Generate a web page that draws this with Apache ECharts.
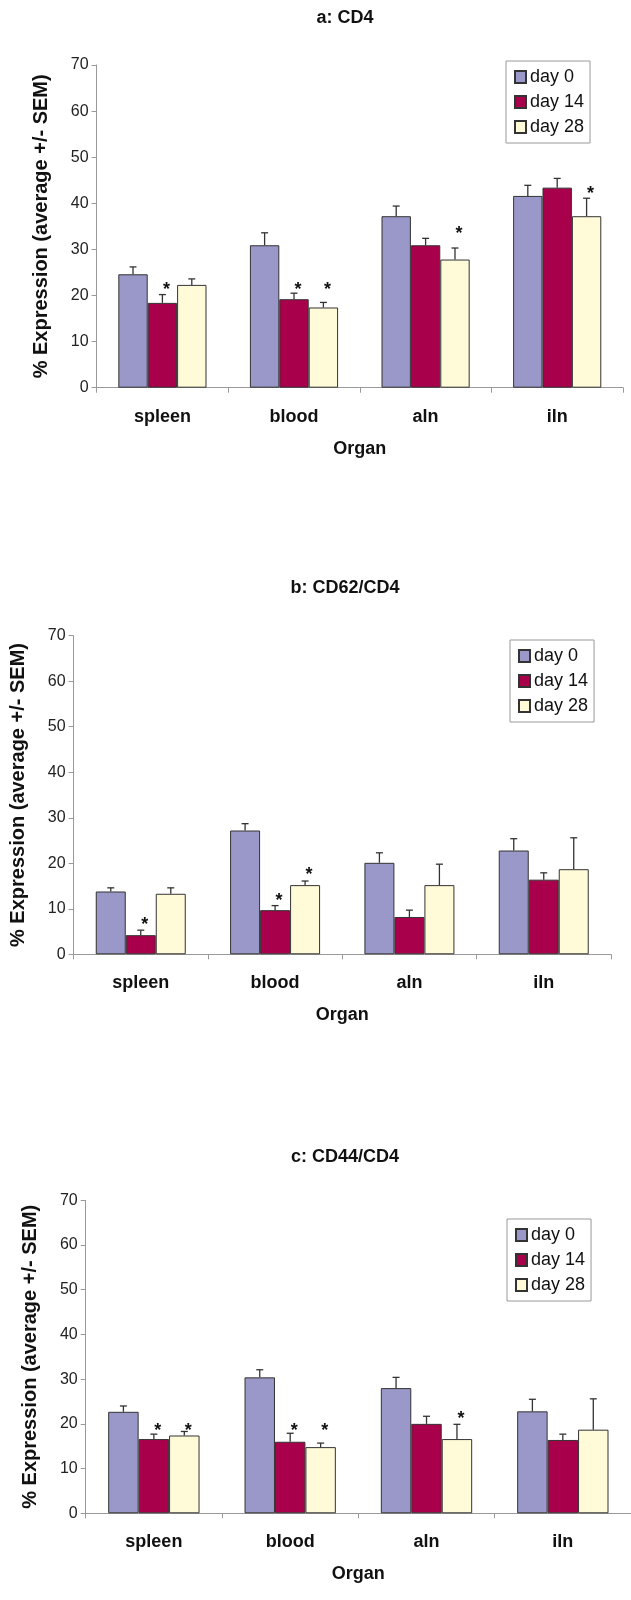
<!DOCTYPE html>
<html>
<head>
<meta charset="utf-8">
<script src="https://cdn.jsdelivr.net/npm/echarts@6/dist/echarts.min.js"></script>
<style>
  html, body { margin: 0; padding: 0; background: #ffffff; }
  #chart { width: 631px; height: 1600px; }
</style>
</head>
<body>
<div id="chart"></div>
<script>
// ---------------- DATA ----------------
const categories = ['spleen', 'blood', 'aln', 'iln'];
const seriesNames = ['day 0', 'day 14', 'day 28'];
const yMin = 0, yMax = 70, yStep = 10;
const chartTitles = ['a: CD4', 'b: CD62/CD4', 'c: CD44/CD4'];
const yAxisTitle = '% Expression (average +/- SEM)';
const xAxisTitle = 'Organ';

// a: CD4
const a_day0 = [24.6, 30.9, 37.2, 41.6];
const a_day14 = [18.4, 19.2, 30.9, 43.4];
const a_day28 = [22.3, 17.4, 27.8, 37.2];
const a_sem0 = [1.6, 2.7, 2.2, 2.3];
const a_sem14 = [1.8, 1.3, 1.5, 2.0];
const a_sem28 = [1.3, 1.1, 2.5, 3.9];
const a_star0 = [null, null, null, null];
const a_star14 = [22.1, 22.1, null, null];
const a_star28 = [null, 22.1, 34.1, 42.9];

// b: CD62/CD4
const b_day0 = [13.8, 27.2, 20.1, 22.8];
const b_day14 = [4.2, 9.7, 8.2, 16.4];
const b_day28 = [13.3, 15.2, 15.2, 18.7];
const b_sem0 = [0.8, 1.5, 2.2, 2.6];
const b_sem14 = [1.1, 1.0, 1.5, 1.5];
const b_sem28 = [1.3, 0.9, 4.6, 6.9];
const b_star0 = [null, null, null, null];
const b_star14 = [7.3, 12.6, null, null];
const b_star28 = [null, 18.2, null, null];

// c: CD44/CD4
const c_day0 = [22.7, 30.4, 28.0, 22.8];
const c_day14 = [16.6, 16.0, 20.0, 16.4];
const c_day28 = [17.4, 14.8, 16.6, 18.7];
const c_sem0 = [1.3, 1.7, 2.4, 2.7];
const c_sem14 = [1.1, 1.9, 1.7, 1.3];
const c_sem28 = [0.9, 0.9, 3.3, 6.9];
const c_star0 = [null, null, null, null];
const c_star14 = [19.3, 19.3, null, null];
const c_star28 = [19.3, 19.3, 21.9, null];

const panels = [
  { title: chartTitles[0], vals: [a_day0, a_day14, a_day28], sems: [a_sem0, a_sem14, a_sem28], stars: [a_star0, a_star14, a_star28] },
  { title: chartTitles[1], vals: [b_day0, b_day14, b_day28], sems: [b_sem0, b_sem14, b_sem28], stars: [b_star0, b_star14, b_star28] },
  { title: chartTitles[2], vals: [c_day0, c_day14, c_day28], sems: [c_sem0, c_sem14, c_sem28], stars: [c_star0, c_star14, c_star28] }
];

// ---------------- LAYOUT / STYLE ----------------
const layout = [
  { left: 96.6, top: 65,    width: 526.4, height: 322.7, titleTop: 4,    legendLeft: 506, legendTop: 61,  nameGap: 45 },
  { left: 73.6, top: 635.7, width: 537.3, height: 318.6, titleTop: 574,  legendLeft: 510, legendTop: 640, nameGap: 45 },
  { left: 85.7, top: 1200.3,width: 546.8, height: 313.0, titleTop: 1143, legendLeft: 507, legendTop: 1219, nameGap: 45 }
];
const colors = ['#9A98C8', '#A8004A', '#FFFAD8'];
const FONT = 'Arial, "Liberation Sans", Helvetica, sans-serif';
const CAT_GAP = 0.33;

function errRender(pos) {
  return function (params, api) {
    const ci = api.value(0);
    const v = api.value(1);
    const sem = api.value(2);
    const star = api.value(3);
    const base = api.coord([ci, v]);
    const top = api.coord([ci, v + sem]);
    const catW = api.size([1, 0])[0];
    const bw = catW * (1 - CAT_GAP) / 3;
    const x = base[0] + (pos - 1) * bw;
    const children = [
      { type: 'line', shape: { x1: x, y1: base[1], x2: x, y2: top[1] }, style: { stroke: '#333', lineWidth: 1.3 } },
      { type: 'line', shape: { x1: x - 3.5, y1: top[1], x2: x + 3.5, y2: top[1] }, style: { stroke: '#333', lineWidth: 1.3 } }
    ];
    if (star !== null && star !== undefined && !isNaN(star)) {
      const sp = api.coord([ci, star]);
      children.push({
        type: 'text',
        style: { x: x + 4, y: sp[1] + 4, text: '*', fill: '#111', font: 'bold 18px ' + FONT, align: 'center', verticalAlign: 'middle' }
      });
    }
    return { type: 'group', children: children };
  };
}

const option = {
  backgroundColor: '#ffffff',
  animation: false,
  textStyle: { fontFamily: FONT },
  title: [],
  legend: [],
  grid: [],
  xAxis: [],
  yAxis: [],
  series: []
};

panels.forEach(function (p, gi) {
  const L = layout[gi];
  option.title.push({
    text: p.title, left: 340, top: L.titleTop, textAlign: 'center',
    textStyle: { fontFamily: FONT, fontSize: 18, fontWeight: 'bold', color: '#111' }
  });
  option.grid.push({ left: L.left, top: L.top, width: L.width, height: L.height, containLabel: false });
  option.xAxis.push({
    type: 'category', gridIndex: gi, data: categories,
    name: xAxisTitle, nameLocation: 'middle', nameGap: 52,
    nameTextStyle: { fontFamily: FONT, fontSize: 18, fontWeight: 'bold', color: '#111' },
    axisLine: { show: true, lineStyle: { color: '#999', width: 1 } },
    axisTick: { show: true, alignWithLabel: false, length: 5, lineStyle: { color: '#999' } },
    axisLabel: { fontFamily: FONT, fontSize: 18, fontWeight: 'bold', color: '#111', margin: 20 },
    splitLine: { show: false }
  });
  option.yAxis.push({
    type: 'value', gridIndex: gi, min: yMin, max: yMax, interval: yStep,
    name: yAxisTitle, nameLocation: 'middle', nameRotate: 90, nameGap: L.nameGap,
    nameTextStyle: { fontFamily: FONT, fontSize: 20, fontWeight: 'bold', color: '#111' },
    axisLine: { show: true, lineStyle: { color: '#999', width: 1 } },
    axisTick: { show: true, length: 5, lineStyle: { color: '#999' } },
    axisLabel: { fontFamily: FONT, fontSize: 16, color: '#222', margin: 8 },
    splitLine: { show: false }
  });
  option.legend.push({
    orient: 'vertical', left: L.legendLeft, top: L.legendTop,
    data: seriesNames,
    backgroundColor: '#fff', borderColor: '#999', borderWidth: 1, borderRadius: 0,
    padding: [7, 6, 7, 8], itemGap: 7, itemWidth: 11, itemHeight: 12,
    icon: 'rect', selectedMode: false,
    textStyle: { fontFamily: FONT, fontSize: 18, color: '#111', padding: [0, 0, 0, -1], lineHeight: 18 }
  });
  seriesNames.forEach(function (nm, si) {
    option.series.push({
      type: 'bar', name: nm, xAxisIndex: gi, yAxisIndex: gi,
      data: p.vals[si], barGap: '0%', barCategoryGap: (CAT_GAP * 100) + '%',
      itemStyle: { color: colors[si], borderColor: '#333', borderWidth: 1 },
      emphasis: { disabled: true }
    });
  });
  seriesNames.forEach(function (nm, si) {
    option.series.push({
      type: 'custom', name: nm + ' SEM', xAxisIndex: gi, yAxisIndex: gi, z: 5,
      renderItem: errRender(si),
      encode: { x: 0, y: [1] },
      data: categories.map(function (c, ci) {
        const s = p.stars[si][ci];
        return [ci, p.vals[si][ci], p.sems[si][ci], s === null ? NaN : s];
      })
    });
  });
});

const chart = echarts.init(document.getElementById('chart'), null, { renderer: 'canvas' });
chart.setOption(option);
</script>
</body>
</html>
